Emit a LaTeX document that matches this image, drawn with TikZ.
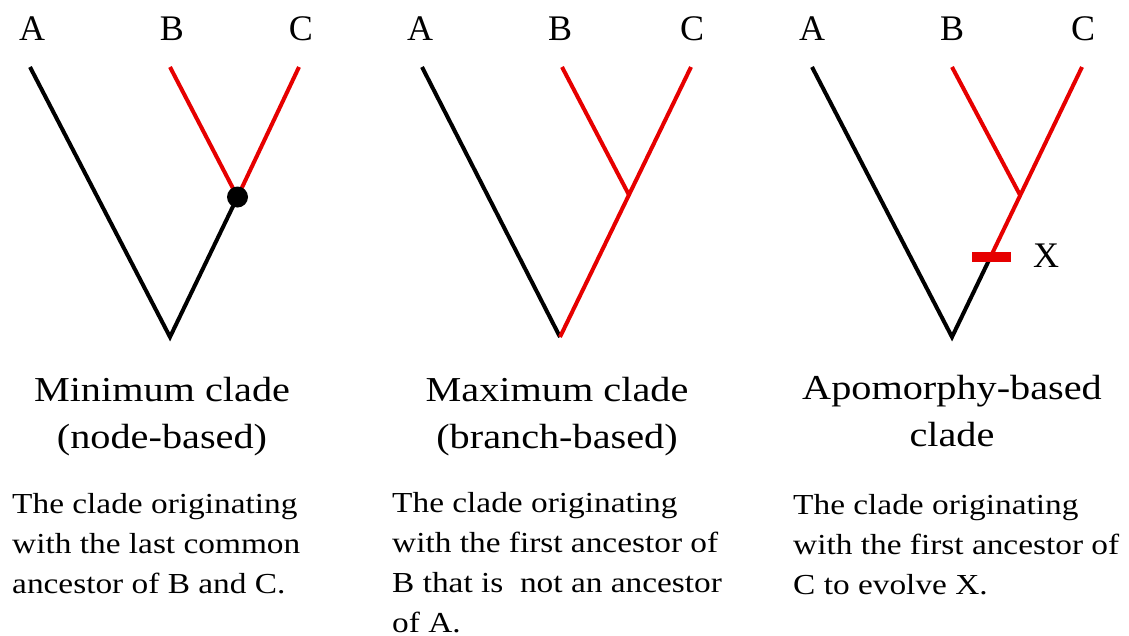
\documentclass[tikz,border=0pt]{standalone}
\usepackage{fontspec}
\setmainfont{Liberation Serif}
\newfontfamily\widefont[FakeStretch=1.15]{Liberation Serif}
\definecolor{cladered}{RGB}{230,0,0}
\tikzset{
  branch/.style={line width=4pt, black},
  redbranch/.style={line width=4pt, cladered},
  taxon/.style={inner sep=0pt, anchor=base, font=\fontsize{36}{40}\selectfont},
  title/.style={inner sep=0pt, anchor=base, align=center, font=\widefont\fontsize{35}{47}\selectfont},
  desc/.style={inner sep=0pt, anchor=base west, align=left, font=\widefont\fontsize{29}{40}\selectfont},
}
\begin{document}
\begin{tikzpicture}[x=1pt,y=-1pt]
\useasboundingbox (0,0) rectangle (1129,635);
% ---------- panel 1 ----------
\coordinate (a1) at (30,67);
\coordinate (b1) at (170,67);
\coordinate (c1) at (299,67);
\coordinate (r1) at (170,337);
\coordinate (j1) at (237.5,197);
\node[taxon] (la1) at (32,40) {A};
\node[taxon] (lb1) at (172,40) {B};
\node[taxon] (lc1) at (301,40) {C};
\draw[branch] (a1) -- (r1) -- (j1);
\draw[redbranch] (b1) -- (j1) -- (c1);
\fill[black] (j1) circle (10.5);
% multi-line nodes: base anchor sits on the last line's baseline
\node[title] (t1) at (162,448) {Minimum clade\\(node-based)};
\node[desc] (d1) at (12,593) {The clade originating\\with the last common\\ancestor of B and C.};
% ---------- panel 2 ----------
\coordinate (a2) at (422,67);
\coordinate (b2) at (562,67);
\coordinate (c2) at (691,67);
\coordinate (r2) at (560,337);
\coordinate (j2) at (629,195);
\node[taxon] (la2) at (420,40) {A};
\node[taxon] (lb2) at (560,40) {B};
\node[taxon] (lc2) at (692,40) {C};
\draw[branch] (a2) -- (r2);
\draw[redbranch] (r2) -- (c2);
\draw[redbranch] (b2) -- (j2);
\node[title] (t2) at (557,448) {Maximum clade\\(branch-based)};
\node[desc] (d2) at (392,632) {The clade originating\\with the first ancestor of\\B that is\ \ not an ancestor\\of A.};
% ---------- panel 3 ----------
\coordinate (a3) at (812,67);
\coordinate (b3) at (952,67);
\coordinate (c3) at (1082,67);
\coordinate (r3) at (952,337);
\coordinate (j3) at (1020,195);
\coordinate (x3) at (990.5,257);
\coordinate (xl) at (972,257);
\coordinate (xr) at (1011,257);
\node[taxon] (la3) at (812,40) {A};
\node[taxon] (lb3) at (952,40) {B};
\node[taxon] (lc3) at (1083,40) {C};
\draw[branch] (a3) -- (r3) -- (x3);
\draw[redbranch] (x3) -- (c3);
\draw[redbranch] (b3) -- (j3);
\draw[cladered, line width=10pt] (xl) -- (xr);
\node[taxon, anchor=base west] (lx) at (1033,267) {X};
\node[title] (t3) at (952,446) {Apomorphy-based\\clade};
\node[desc] (d3) at (793,594) {The clade originating\\with the first ancestor of\\C to evolve X.};
\end{tikzpicture}
\end{document}
